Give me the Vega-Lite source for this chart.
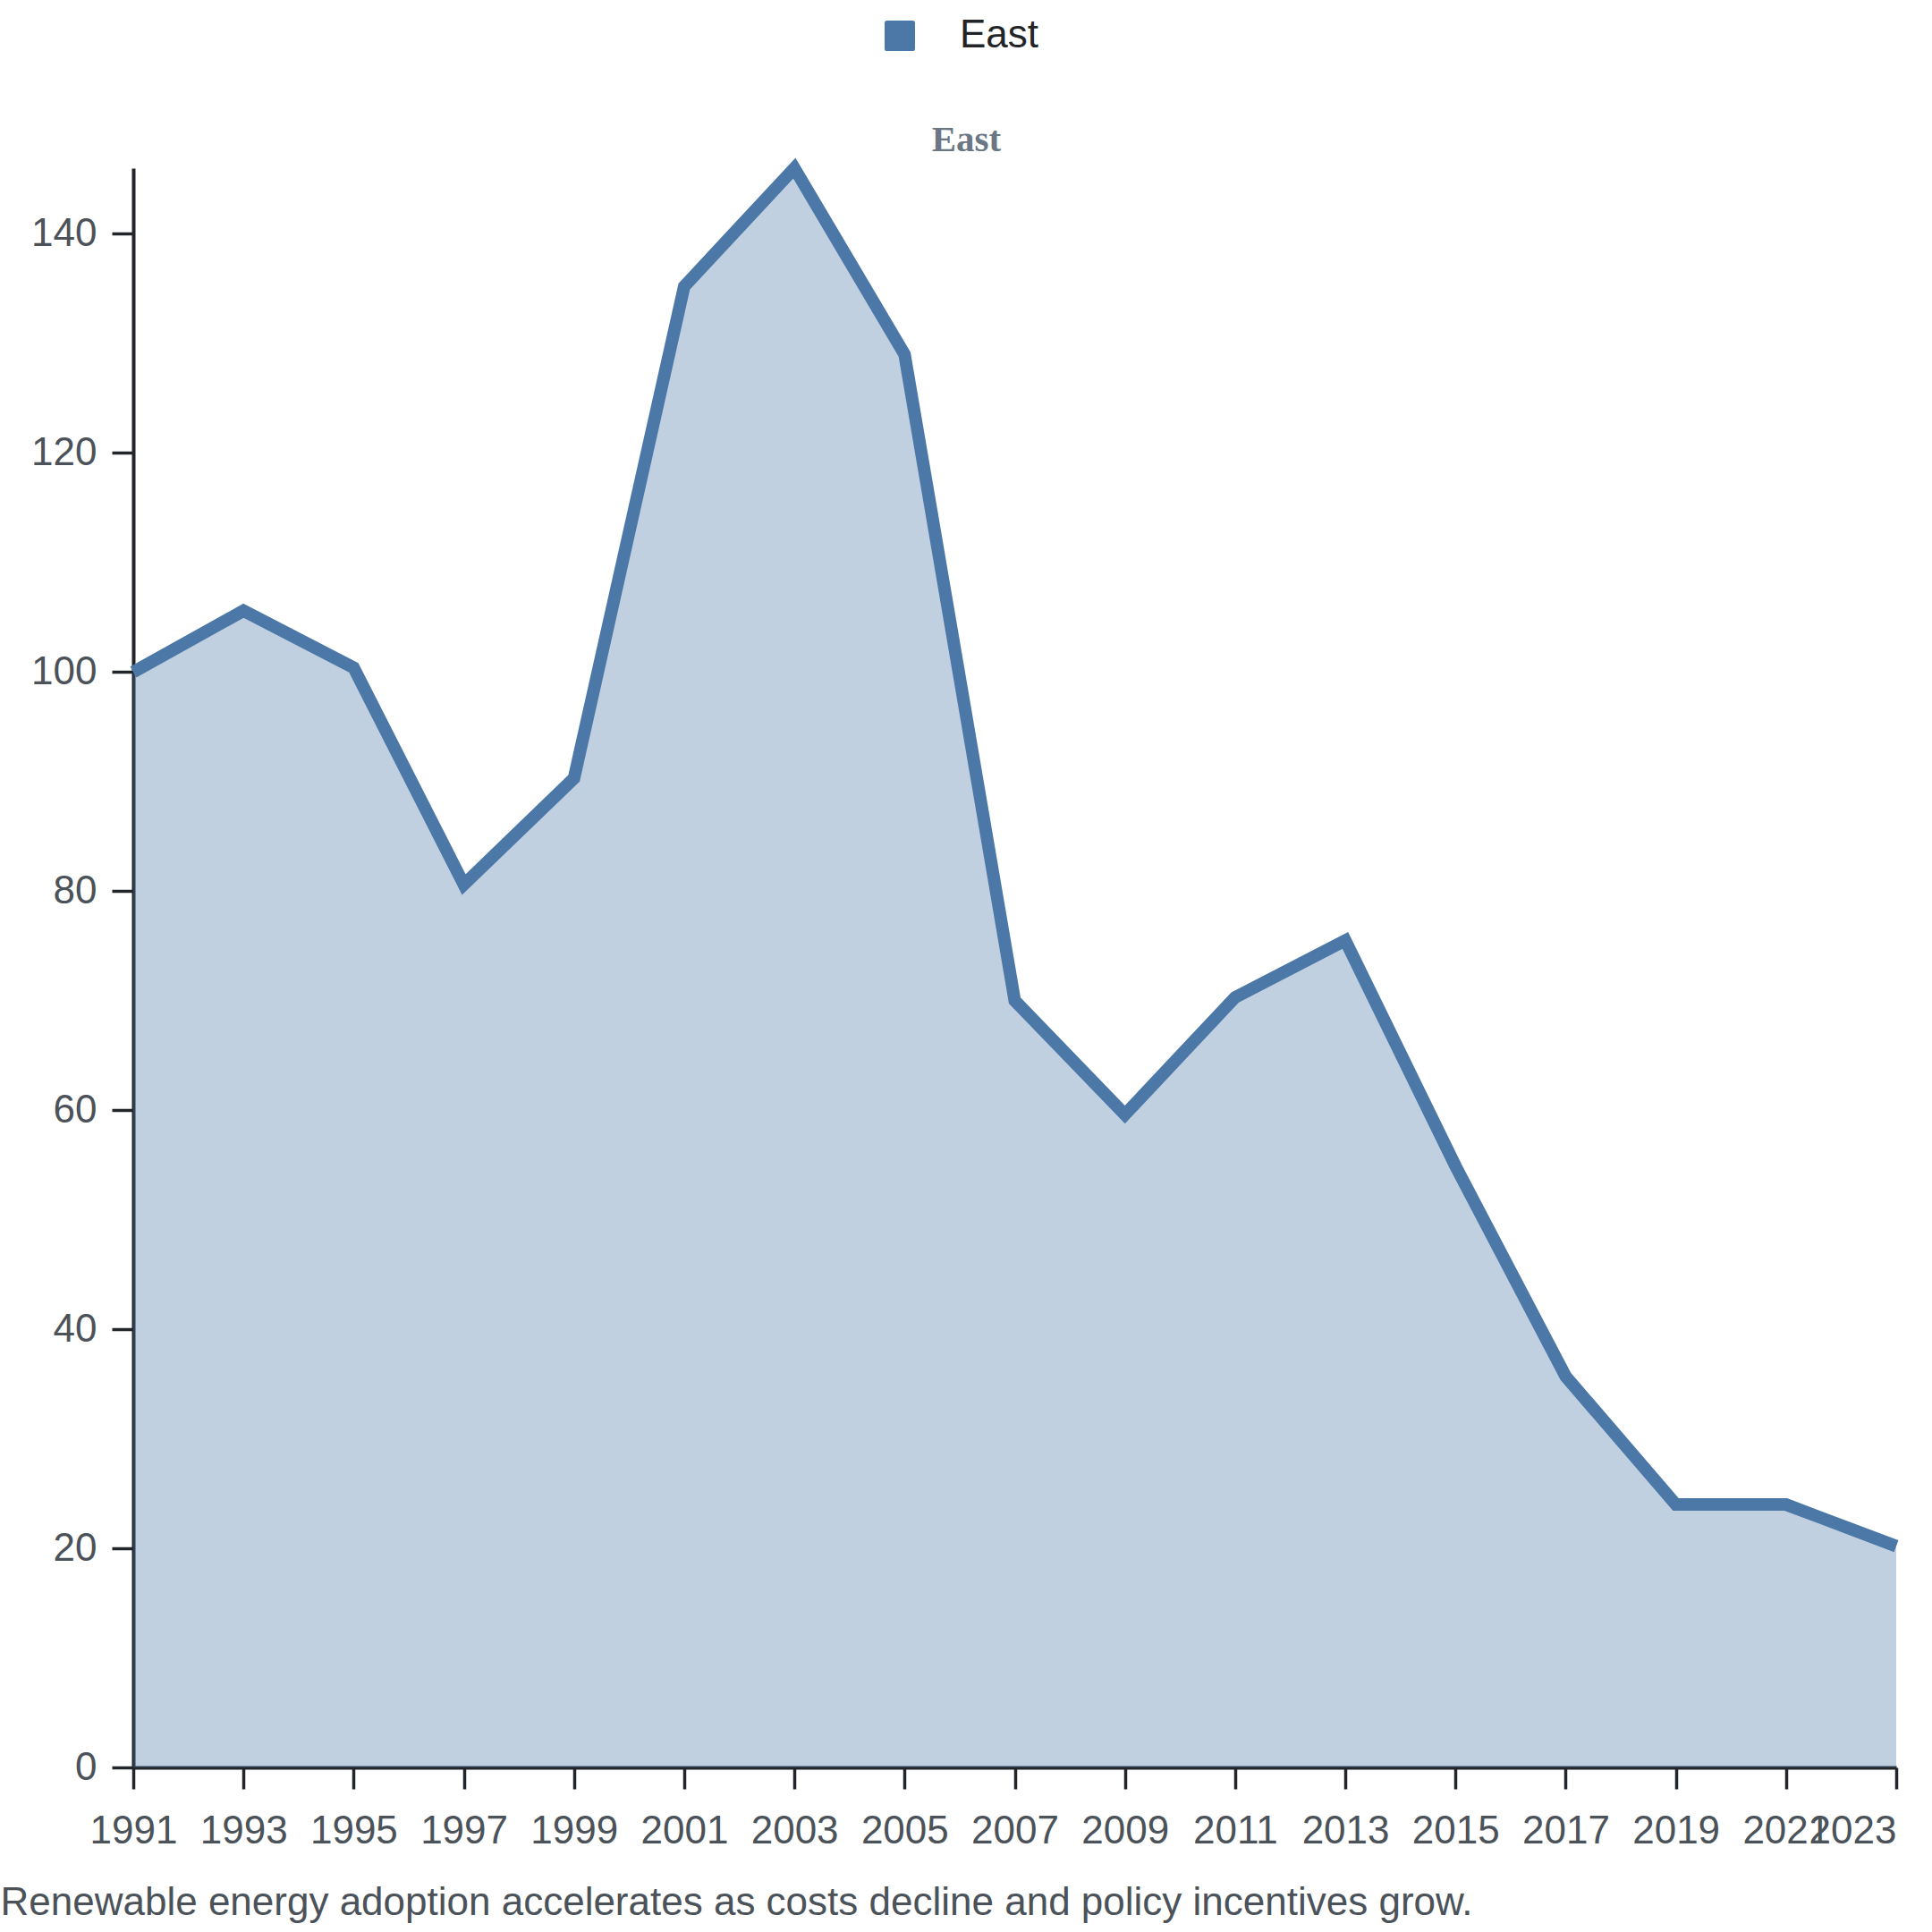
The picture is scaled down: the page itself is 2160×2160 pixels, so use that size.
{
  "$schema": "https://vega.github.io/schema/vega-lite/v6.json",
  "width": 1971,
  "height": 1788,
  "autosize": {"type": "none"},
  "padding": {"left": 149, "top": 188, "right": 40, "bottom": 184},
  "background": "white",
  "config": {
    "view": {"stroke": null},
    "font": "Liberation Sans"
  },
  "title": {
    "text": "East",
    "font": "Liberation Serif",
    "fontSize": 41,
    "fontWeight": "bold",
    "color": "#6b7785",
    "anchor": "middle",
    "baseline": "alphabetic",
    "offset": -192,
    "dx": -54
  },
  "data": {
    "values": [
      {"year": 1991, "value": 100, "region": "East"},
      {"year": 1993, "value": 105.6, "region": "East"},
      {"year": 1995, "value": 100.4, "region": "East"},
      {"year": 1997, "value": 80.6, "region": "East"},
      {"year": 1999, "value": 90.3, "region": "East"},
      {"year": 2001, "value": 135.2, "region": "East"},
      {"year": 2003, "value": 146, "region": "East"},
      {"year": 2005, "value": 129, "region": "East"},
      {"year": 2007, "value": 70, "region": "East"},
      {"year": 2009, "value": 59.6, "region": "East"},
      {"year": 2011, "value": 70.3, "region": "East"},
      {"year": 2013, "value": 75.5, "region": "East"},
      {"year": 2015, "value": 54.9, "region": "East"},
      {"year": 2017, "value": 35.7, "region": "East"},
      {"year": 2019, "value": 24, "region": "East"},
      {"year": 2021, "value": 24, "region": "East"},
      {"year": 2023, "value": 20.2, "region": "East"}
    ]
  },
  "encoding": {
    "x": {
      "field": "year",
      "type": "quantitative",
      "scale": {"domain": [1991, 2023], "nice": false, "zero": false},
      "axis": {
        "values": [1991, 1993, 1995, 1997, 1999, 2001, 2003, 2005, 2007, 2009, 2011, 2013, 2015, 2017, 2019, 2021, 2023],
        "format": "d",
        "grid": false,
        "labelOverlap": false,
        "labelBound": false,
        "labelFlush": false,
        "labelFontSize": 44,
        "labelColor": "#4b5259",
        "labelBaseline": "alphabetic",
        "labelPadding": 60,
        "labelAlign": {"condition": {"test": "datum.value == 2023", "value": "right"}, "value": "center"},
        "tickSize": 24,
        "tickWidth": 3.5,
        "tickColor": "#22252a",
        "domainWidth": 4,
        "domainColor": "#22252a",
        "title": "Renewable energy adoption accelerates as costs decline and policy incentives grow.",
        "titleX": -149,
        "titleY": 164,
        "titleAlign": "left",
        "titleBaseline": "alphabetic",
        "titleFontSize": 44,
        "titleFontWeight": "normal",
        "titleColor": "#4b5259"
      }
    },
    "y": {
      "field": "value",
      "type": "quantitative",
      "scale": {"domain": [0, 146], "nice": false},
      "axis": {
        "values": [0, 20, 40, 60, 80, 100, 120, 140],
        "grid": false,
        "labelFontSize": 44,
        "labelColor": "#4b5259",
        "labelPadding": 17,
        "tickSize": 24,
        "tickWidth": 3.5,
        "tickColor": "#22252a",
        "domainWidth": 4,
        "domainColor": "#22252a",
        "title": null
      }
    }
  },
  "layer": [
    {
      "mark": {"type": "area", "fillOpacity": 0.35},
      "encoding": {
        "color": {
          "field": "region",
          "type": "nominal",
          "scale": {"domain": ["East"], "range": ["#4c78a8"]},
          "legend": {
            "title": null,
            "orient": "none",
            "legendX": 835,
            "legendY": -170,
            "direction": "horizontal",
            "symbolType": "M -0.85 -1 H 0.85 Q 1 -1 1 -0.85 V 0.85 Q 1 1 0.85 1 H -0.85 Q -1 1 -1 0.85 V -0.85 Q -1 -1 -0.85 -1 Z",
            "symbolSize": 1156,
            "symbolOpacity": 1,
            "symbolStrokeWidth": 0,
            "labelFontSize": 44,
            "labelColor": "#222428",
            "labelOffset": 45
          }
        }
      }
    },
    {
      "mark": {"type": "line", "color": "#4c78a8", "strokeWidth": 14, "strokeJoin": "miter"},
      "encoding": {}
    }
  ]
}
